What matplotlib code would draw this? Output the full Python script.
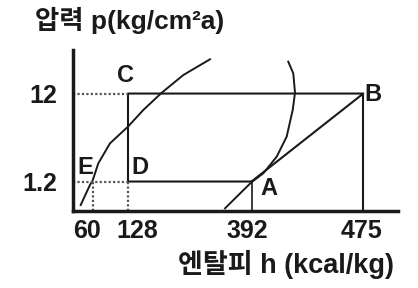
import numpy as np
import matplotlib
matplotlib.use('Agg')
import matplotlib.pyplot as plt
import matplotlib.transforms as mtransforms

plt.rcParams['font.family'] = ['Liberation Sans', 'Noto Sans CJK KR', 'DejaVu Sans']
plt.rcParams['font.weight'] = 'bold'

# cycle points (h in kcal/kg, p in kg/cm2a)
h_ticks = [60, 128, 392, 475]
h_tick_labels = ['60', '128', '392', '475']
p_ticks = [1.2, 12]
p_tick_labels = ['1.2', '12']

point_names = ['A', 'B', 'C', 'D', 'E']
point_h = [392, 475, 128, 128, 60]
point_p = [1.2, 12, 12, 1.2, 1.2]

# saturated liquid line
liq_h = [24.6, 52.5, 60, 71.1, 93.5, 128, 160.7, 200.1, 246.2, 303.3]
liq_p = [0.649, 1.10, 1.22, 1.93, 3.26, 5.05, 7.80, 12.26, 19.47, 29.4]

# saturated vapour line
vap_h = [419.3, 423.0, 424.3, 422.6, 418.1, 410.7, 400.8, 392.0, 360.4, 335.4]
vap_p = [27.6, 20.4, 12.26, 7.80, 3.88, 2.30, 1.49, 1.18, 0.806, 0.595]

# the h axis in the sketch is not to scale: piecewise linear mapping
h_anchor = [0, 60, 128, 392, 475, 550]
u_anchor = [0, 20, 55.5, 179, 290.8, 325.5]


def fwd(h):
    return np.interp(h, h_anchor, u_anchor)


def inv(u):
    return np.interp(u, u_anchor, h_anchor)


fig = plt.figure(figsize=(4.18, 2.88), dpi=100)
ax = fig.add_axes([72.5 / 418, 77 / 288, 325.5 / 418, 161 / 288])
ax.set_xscale('function', functions=(fwd, inv))
ax.set_yscale('log')
ax.set_xlim(0, 550)
ax.set_ylim(0.555, 37.5)

ink = '#1a1a1a'
ax.plot(liq_h, liq_p, color=ink, lw=1.4)
ax.plot(vap_h, vap_p, color=ink, lw=1.4)

A, B, C, D, E = [(h, p) for h, p in zip(point_h, point_p)]
ymin = ax.get_ylim()[0]

# cycle A-B-C-D-A
ax.plot([A[0], B[0], C[0], D[0], A[0]], [A[1], B[1], C[1], D[1], A[1]],
        color=ink, lw=1.5)
ax.plot([B[0], B[0]], [B[1], ymin], color=ink, lw=1.5)
ax.plot([A[0], A[0]], [A[1], ymin], color=ink, lw=1.2)

# dotted guides
dot = dict(color='#555555', lw=1.6, ls=(0, (1, 1)))
ax.plot([0, C[0]], [C[1], C[1]], **dot)
ax.plot([0, D[0]], [D[1], D[1]], **dot)
ax.plot([E[0], E[0]], [E[1], ymin], **dot)
ax.plot([D[0], D[0]], [D[1], ymin], **dot)

# point letters
offsets = {'A': (17, -7), 'B': (10, -1), 'C': (-3, 18), 'D': (12, 14), 'E': (-7, 14)}
for name, h, p in zip(point_names, point_h, point_p):
    ax.annotate(name, (h, p), xytext=offsets[name], textcoords='offset pixels',
                ha='center', va='center', fontsize=17, fontweight='bold', color=ink)

for side in ['top', 'right']:
    ax.spines[side].set_visible(False)
for side in ['left', 'bottom']:
    ax.spines[side].set_linewidth(2.5)
    ax.spines[side].set_color(ink)

ax.set_xticks(h_ticks)
ax.set_xticklabels(h_tick_labels, fontsize=18, fontweight='bold', color=ink)
ax.set_yticks(p_ticks)
ax.set_yticklabels(p_tick_labels, fontsize=18, fontweight='bold', color=ink)
ax.minorticks_off()
ax.tick_params(axis='both', length=0)
ax.tick_params(axis='x', pad=6)
ax.tick_params(axis='y', pad=11)

shifts = [-5, 9.5, -4.5, -2]
for lab, dx in zip(ax.get_xticklabels(), shifts):
    lab.set_transform(lab.get_transform() +
                      mtransforms.ScaledTranslation(dx / 100, 0, fig.dpi_scale_trans))

fig.text(35 / 418, 1 - 20 / 288, '압력 p(kg/cm²a)', ha='left', va='center',
         fontsize=19, fontweight='bold', color=ink)
fig.text(394 / 418, 1 - 264 / 288, '엔탈피 h (kcal/kg)', ha='right', va='center',
         fontsize=19.5, fontweight='bold', color=ink)

fig.savefig('out.png', dpi=100)
